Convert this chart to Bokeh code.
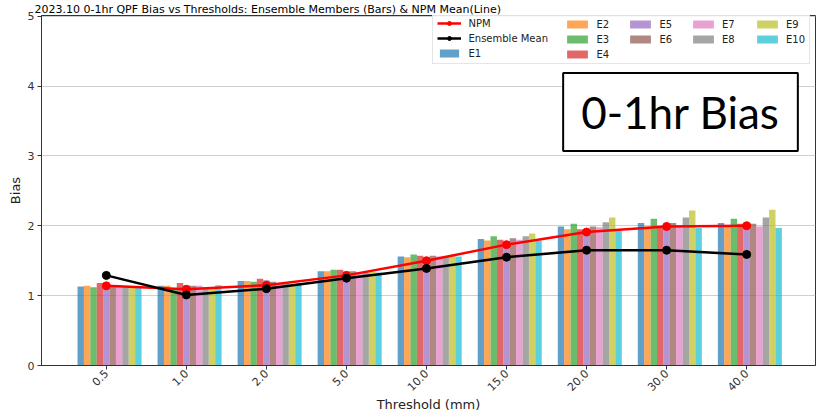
import numpy as np
from bokeh.plotting import figure
from bokeh.models import (Range1d, FixedTicker, Legend, LegendItem, Label)
from bokeh.embed import file_html
from bokeh.resources import INLINE

# ---- data ----
thresholds = ["0.5", "1.0", "2.0", "5.0", "10.0", "15.0", "20.0", "30.0", "40.0"]
members = ["E1", "E2", "E3", "E4", "E5", "E6", "E7", "E8", "E9", "E10"]

E1 = [1.13, 1.14, 1.21, 1.35, 1.56, 1.81, 1.99, 2.04, 2.04]
E2 = [1.14, 1.14, 1.21, 1.35, 1.55, 1.79, 1.95, 1.99, 2.00]
E3 = [1.12, 1.11, 1.20, 1.37, 1.59, 1.85, 2.03, 2.10, 2.10]
E4 = [1.18, 1.18, 1.24, 1.37, 1.57, 1.80, 1.95, 2.00, 2.03]
E5 = [1.16, 1.15, 1.22, 1.35, 1.55, 1.77, 1.94, 1.99, 2.02]
E6 = [1.13, 1.14, 1.20, 1.35, 1.57, 1.82, 1.99, 2.04, 2.03]
E7 = [1.14, 1.14, 1.18, 1.34, 1.56, 1.80, 1.98, 1.99, 1.99]
E8 = [1.13, 1.12, 1.18, 1.34, 1.56, 1.85, 2.05, 2.12, 2.12]
E9 = [1.13, 1.11, 1.17, 1.34, 1.57, 1.89, 2.12, 2.22, 2.23]
E10 = [1.13, 1.15, 1.18, 1.33, 1.56, 1.79, 1.93, 1.97, 1.97]
npm = [1.14, 1.09, 1.15, 1.29, 1.50, 1.73, 1.91, 1.99, 2.00]
ens_mean = [1.29, 1.01, 1.10, 1.25, 1.39, 1.55, 1.65, 1.65, 1.59]

member_values = [E1, E2, E3, E4, E5, E6, E7, E8, E9, E10]
colors = ["#1f77b4", "#ff7f0e", "#2ca02c", "#d62728", "#9467bd",
          "#8c564b", "#e377c2", "#7f7f7f", "#bcbd22", "#17becf"]

title_text = "2023.10 0-1hr QPF Bias vs Thresholds: Ensemble Members (Bars) & NPM Mean(Line)"

FONT = "DejaVu Sans"
FW, FH = 774, 350

idx = np.arange(len(thresholds))
bar_w = 0.08

p = figure(frame_width=FW, frame_height=FH, output_backend="svg", toolbar_location=None,
           x_range=Range1d(-0.81, 8.86), y_range=Range1d(0, 5.01),
           min_border_left=41, min_border_right=9, min_border_top=0, min_border_bottom=30,
           title=title_text)
p.background_fill_color = "white"
p.border_fill_color = "white"
p.outline_line_color = "#333333"
p.outline_line_width = 1

p.title.text_font = FONT
p.title.text_font_size = "11px"
p.title.text_font_style = "normal"
p.title.text_color = "black"
p.title.align = "left"
p.title.offset = -7
p.title.standoff = 0

bar_renderers = []
for j, (vals, c) in enumerate(zip(member_values, colors)):
    r = p.vbar(x=idx + (j - 4) * bar_w, top=vals, width=bar_w, bottom=0,
               fill_color=c, fill_alpha=0.7, line_color=None)
    bar_renderers.append(r)

npm_line = p.line(idx, npm, line_color="red", line_width=2.5)
npm_pts = p.scatter(idx, npm, size=8, fill_color="red", line_color="red")
em_line = p.line(idx, ens_mean, line_color="black", line_width=2.5)
em_pts = p.scatter(idx, ens_mean, size=8, fill_color="black", line_color="black")

# axes
p.xaxis.ticker = FixedTicker(ticks=list(idx))
p.xaxis.major_label_overrides = {int(i): t for i, t in zip(idx, thresholds)}
p.xaxis.major_label_orientation = np.pi / 4
p.yaxis.ticker = FixedTicker(ticks=[0, 1, 2, 3, 4, 5])
for ax in (p.xaxis[0], p.yaxis[0]):
    ax.axis_line_color = "#333333"
    ax.major_tick_line_color = "#333333"
    ax.major_tick_out = 4
    ax.major_tick_in = 0
    ax.minor_tick_line_color = None
    ax.major_label_text_font = FONT
    ax.major_label_text_font_size = "11px"
    ax.major_label_text_color = "#333333"
    ax.axis_label_text_font = FONT
    ax.axis_label_text_font_size = "13px"
    ax.axis_label_text_font_style = "normal"
    ax.axis_label_text_color = "#222222"
p.xaxis.major_label_standoff = 2
p.yaxis.major_label_standoff = 3
p.xaxis.axis_label = "Threshold (mm)"
p.yaxis.axis_label = "Bias"
p.xaxis.axis_label_standoff = 0
p.yaxis.axis_label_standoff = 2

p.xgrid.grid_line_color = None
p.ygrid.grid_line_color = "#cfcfcf"
p.ygrid.grid_line_width = 1

# legend: 5 columns laid out like the reference (3,3,2,2,2 items)
columns = [
    [("NPM", [npm_line, npm_pts]), ("Ensemble Mean", [em_line, em_pts]), (members[0], [bar_renderers[0]])],
    [(members[1], [bar_renderers[1]]), (members[2], [bar_renderers[2]]), (members[3], [bar_renderers[3]])],
    [(members[4], [bar_renderers[4]]), (members[5], [bar_renderers[5]])],
    [(members[6], [bar_renderers[6]]), (members[7], [bar_renderers[7]])],
    [(members[8], [bar_renderers[8]]), (members[9], [bar_renderers[9]])],
]
LH, SP, PAD = 12, 3, 4
box_bottom = 301.0           # frame-relative (from frame bottom)
box_h = 3 * LH + 2 * SP + 2 * PAD
row_top = box_bottom + box_h - PAD
col_x = [390.5, 523.4, 586.4, 649, 713]
col_gw = [24, 26, 26, 26, 26]
col_so = [8, 6, 6, 6, 6]
for k, (cx, gw, so, col) in enumerate(zip(col_x, col_gw, col_so, columns)):
    n = len(col)
    h = n * LH + (n - 1) * SP
    common = dict(orientation="vertical", margin=0, spacing=SP, label_height=LH,
                  glyph_height=10, glyph_width=gw, label_standoff=so,
                  label_text_font=FONT, label_text_font_size="10px",
                  label_text_color="#222222", label_text_baseline="middle")
    items = [LegendItem(label=lab, renderers=rs) for lab, rs in col]
    if k == 0:
        leg = Legend(items=items, location=(cx, box_bottom), padding=PAD,
                     label_width=336, border_line_color="#cccccc", border_line_width=1,
                     background_fill_color="white", background_fill_alpha=0.85, **common)
    else:
        leg = Legend(items=items, location=(cx, row_top - h), padding=0,
                     border_line_alpha=0, background_fill_alpha=0, **common)
    p.add_layout(leg)

# big annotation box
big = Label(x=639, y=253.5, x_units="screen", y_units="screen", text="0-1hr Bias",
            text_font="Lato", text_font_size="44px", text_color="black",
            text_align="center", text_baseline="middle",
            background_fill_color="white", border_line_color="black", border_line_width=2,
            padding=(18, 18, 13, 13))
p.add_layout(big)

open("out.html", "w").write(file_html(p, INLINE))
